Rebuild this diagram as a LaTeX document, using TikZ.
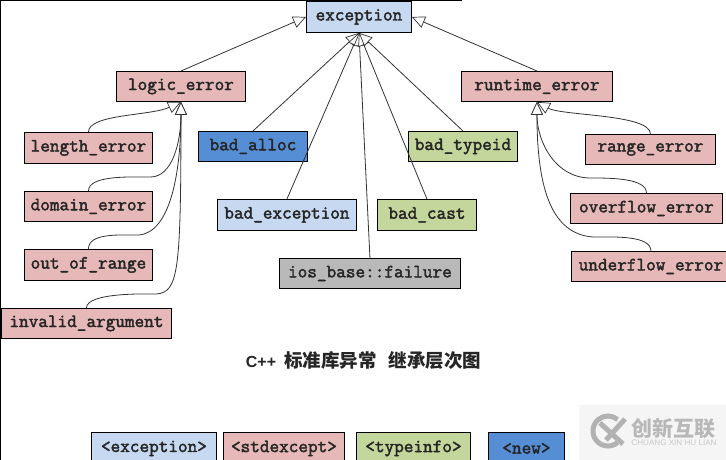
\documentclass[tikz,border=0pt]{standalone}
\usepackage{fontspec}
\setsansfont{Liberation Sans}
\setmonofont{Latin Modern Mono}[AutoFakeBold=2.2]
\newfontfamily\cjkfont{Noto Sans CJK SC}
\usetikzlibrary{arrows.meta}
\definecolor{cblue}{HTML}{C6D9F1}
\definecolor{cred}{HTML}{E6B8B7}
\definecolor{cgreen}{HTML}{C3D69B}
\definecolor{cdark}{HTML}{558ED5}
\definecolor{cgray}{HTML}{B9B9B9}
\tikzset{
  cls/.style={draw=black,line width=0.9pt,inner sep=0pt,font=\ttfamily\bfseries\fontsize{18.7}{18.7}\selectfont,text=black!85},
  inh/.style={draw=black!80,line width=0.8pt,-{Triangle[open,fill=white,length=13pt,width=12pt,line width=0.7pt]}},
}
\newcommand{\cbox}[7]{%
  \node[cls,fill=#6,minimum width={(#4-#2)*1pt},minimum height={(#5-#3)*1pt},anchor=north west] (#1) at (#2,#3) {\raisebox{-2pt}{#7}};}
\begin{document}
\begin{tikzpicture}[x=1pt,y=-1pt]
\useasboundingbox (0,0) rectangle (726,460);
\clip (0,0) rectangle (726,460);
\fill[white] (0,0) rectangle (726,460);
% frame
\draw[black,line width=1pt] (0.5,460) -- (0.5,0.5) -- (462,0.5);
% watermark
\fill[black!4] (579,405) rectangle (726,460);
\draw[black!30,line width=5pt] (617.6,442.5) arc (50:310:15);
\draw[black!30,line width=5pt] (600,423) -- (623,444) (625,419) -- (606,440);
\node[text=black!28,font=\cjkfont\bfseries\fontsize{21}{21}\selectfont,anchor=center] (wm) at (673.5,429) {创新互联};
\node[text=black!22,font=\sffamily\fontsize{8.1}{8.1}\selectfont,anchor=center] (wmb) at (674,443) {CHUANG XIN HU LIAN};
% classes
\cbox{exc}{306}{1}{411}{32}{cblue}{exception}
\cbox{logic}{116}{71}{245}{101}{cred}{logic\_error}
\cbox{len}{24}{132}{152}{163}{cred}{length\_error}
\cbox{dom}{24}{191}{152}{221}{cred}{domain\_error}
\cbox{oor}{24}{249}{152}{280}{cred}{out\_of\_range}
\cbox{inv}{1}{308}{171}{338}{cred}{invalid\_argument}
\cbox{alloc}{198}{131}{307}{161}{cdark}{bad\_alloc}
\cbox{bexc}{217}{199}{356}{230}{cblue}{bad\_exception}
\cbox{ios}{279}{258}{460}{288}{cgray}{ios\_base::failure}
\cbox{cast}{377}{199}{476}{230}{cgreen}{bad\_cast}
\cbox{tid}{408}{131}{517}{161}{cgreen}{bad\_typeid}
\cbox{rt}{461}{71}{612}{101}{cred}{runtime\_error}
\cbox{rng}{585}{134}{715}{164}{cred}{range\_error}
\cbox{ovf}{570}{193}{722}{223}{cred}{overflow\_error}
\cbox{unf}{571}{251}{730}{281}{cred}{underflow\_error}
% legend
\cbox{la}{91}{432}{216}{464}{cblue}{<exception>}
\cbox{lb}{223}{432}{344}{464}{cred}{<stdexcept>}
\cbox{lc}{356}{432}{470}{464}{cgreen}{<typeinfo>}
\cbox{ld}{488}{432}{564}{464}{cdark}{<new>}
% title
\node[font=\sffamily\bfseries\fontsize{16}{16}\selectfont,text=black!85,anchor=center] (title) at (363.5,360) {C++\hspace{8pt}{\cjkfont\fontsize{18.5}{18.5}\selectfont 标准库异常\hspace{12pt}继承层次图}};
% straight inheritance
\draw[inh] (logic.north) -- (exc.west);
\draw[inh] (rt.north) -- (exc.east);
\draw[inh] (alloc.north) -- (exc.south);
\draw[inh] (bexc.north) -- (exc.south);
\draw[inh] (ios.north) -- (exc.south);
\draw[inh] (cast.north) -- (exc.south);
\draw[inh] (tid.north) -- (exc.south);
% curved inheritance
\draw[inh] (len.north) .. controls +(0,-18) and +(-30,14) .. (logic.south);
\draw[inh] (dom.north) .. controls +(0,-16) and +(-20,0) .. ++(62,-14) .. controls +(22,0) and +(0,40) .. (logic.south);
\draw[inh] (oor.north) .. controls +(0,-16) and +(-20,0) .. ++(50,-14) .. controls +(32,-2) and +(0,70) .. (logic.south);
\draw[inh] (inv.north) .. controls +(0,-16) and +(-8,0) .. ++(70,-14) .. controls +(22,-2) and +(0,170) .. (logic.south);
\draw[inh] (rng.north) .. controls +(0,-20) and +(25,14) .. (rt.south);
\draw[inh] (ovf.north) .. controls +(0,-15) and +(20,0) .. ++(-56,-15) .. controls +(-35,0) and +(0,40) .. (rt.south);
\draw[inh] (unf.north) .. controls +(0,-16) and +(20,0) .. ++(-58,-14) .. controls +(-40,-3) and +(0,90) .. (rt.south);
\end{tikzpicture}
\end{document}
